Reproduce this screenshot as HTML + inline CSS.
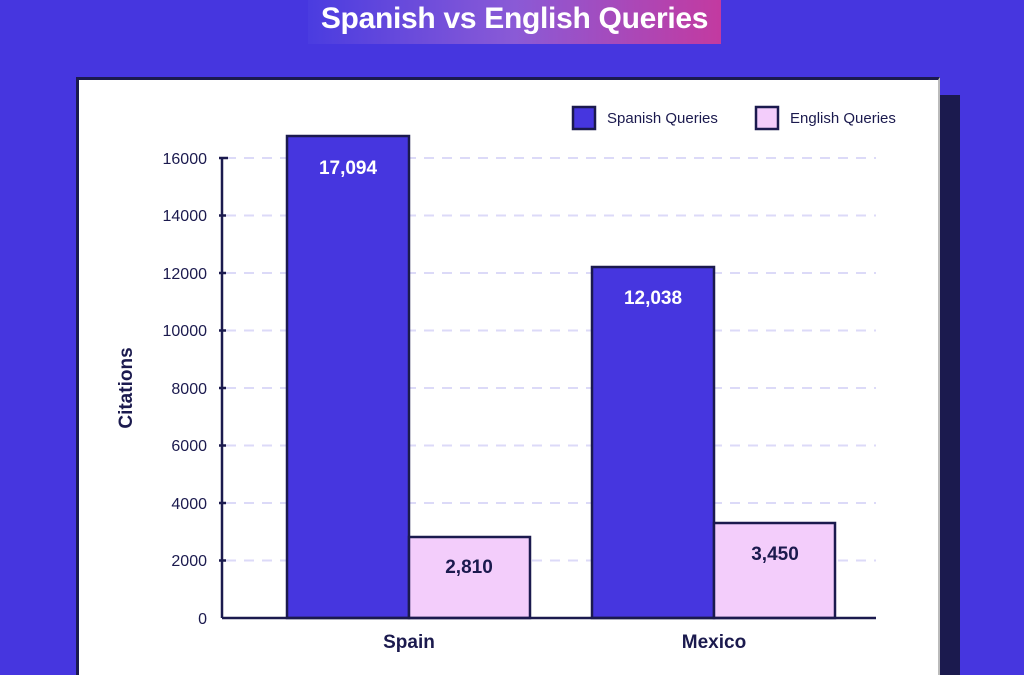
<!DOCTYPE html><html style="overflow:hidden;height:675px"><head><style>
body{margin:0;width:1024px;height:675px;overflow:hidden;background:#4636df;font-family:"Liberation Sans",sans-serif;position:relative}
.t{position:absolute;left:308px;top:0;width:413px;height:44px;background:linear-gradient(90deg,#4a3ce0,#8a5ad6 50%,#c33aa0);color:#fff;font-weight:bold;font-size:30px;line-height:38px;text-align:center;letter-spacing:-0.3px}
.sh{position:absolute;left:100px;top:95px;width:860px;height:580px;background:#1b1a4e}
.card{position:absolute;left:76px;top:77px;width:864px;height:620px;background:#fff;border:3px solid #1b1a4e;border-right:2px solid #bbb;border-bottom:none;box-sizing:border-box}
</style></head><body>
<div class="t">Spanish vs English Queries</div>
<div class="sh"></div><div class="card" style="height:598px"></div>
<svg width="1024" height="675" style="position:absolute;left:0;top:0" font-family="Liberation Sans, sans-serif">
<g stroke="#dcdaf8" stroke-width="2" stroke-dasharray="10,8">
<line x1="226" x2="876" y1="158" y2="158"/><line x1="226" x2="876" y1="215.5" y2="215.5"/><line x1="226" x2="876" y1="273" y2="273"/><line x1="226" x2="876" y1="330.5" y2="330.5"/><line x1="226" x2="876" y1="388" y2="388"/><line x1="226" x2="876" y1="445.5" y2="445.5"/><line x1="226" x2="876" y1="503" y2="503"/><line x1="226" x2="876" y1="560.5" y2="560.5"/>
</g>
<g stroke="#1b1a4e" stroke-width="2.5">
<rect x="287" y="136" width="122" height="482" fill="#4636df"/>
<rect x="409" y="537" width="121" height="81" fill="#f3cdfb"/>
<rect x="592" y="267" width="122" height="351" fill="#4636df"/>
<rect x="714" y="523" width="121" height="95" fill="#f3cdfb"/>
<line x1="222" y1="158" x2="222" y2="618"/><line x1="222" y1="618" x2="876" y2="618"/>
<path d="M219 158H228M219 215.5H226M219 273H226M219 330.5H226M219 388H226M219 445.5H226M219 503H226M219 560.5H226"/>
<rect x="573" y="107" width="22" height="22" fill="#4636df"/>
<rect x="756" y="107" width="22" height="22" fill="#f3cdfb"/>
</g>
<g fill="#1b1a4e" font-size="16" text-anchor="end">
<text x="207" y="164">16000</text><text x="207" y="221">14000</text><text x="207" y="279">12000</text><text x="207" y="336">10000</text><text x="207" y="394">8000</text><text x="207" y="451">6000</text><text x="207" y="509">4000</text><text x="207" y="566">2000</text><text x="207" y="624">0</text>
</g>
<g font-size="15" fill="#1b1a4e"><text x="607" y="123">Spanish Queries</text><text x="790" y="123">English Queries</text></g>
<g font-weight="bold" font-size="19" text-anchor="middle">
<text x="348" y="174" fill="#fff">17,094</text><text x="469" y="573" fill="#1b1a4e">2,810</text>
<text x="653" y="304" fill="#fff">12,038</text><text x="775" y="560" fill="#1b1a4e">3,450</text>
<text x="409" y="648" fill="#1b1a4e">Spain</text><text x="714" y="648" fill="#1b1a4e">Mexico</text>
<text transform="translate(132,388) rotate(-90)" fill="#1b1a4e">Citations</text>
</g>
</svg>
</body></html>
